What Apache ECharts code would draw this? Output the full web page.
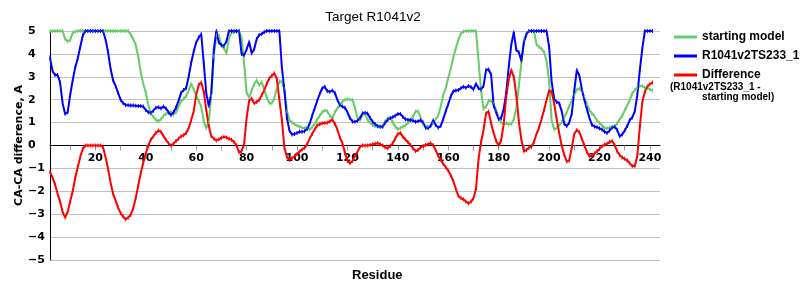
<!DOCTYPE html>
<html>
<head>
<meta charset="utf-8">
<script src="https://cdn.jsdelivr.net/npm/echarts@6/dist/echarts.min.js"></script>
<style>
html,body{margin:0;padding:0;background:#fff;}
#chart{width:800px;height:300px;}
</style>
</head>
<body>
<div id="chart"></div>
<script>
// Residue range on the category axis
const firstResidue = 2;
const lastResidue = 244;

// starting model, residues 2..241
const startingModel = [
  5,5,5,5,5,5,
  4.65,4.55,4.6,4.92,4.98,
  5,5,5,5,5,5,5,5,5,5,5,5,5,5,5,5,5,5,5,5,5,
  4.85,4.65,4.39,3.9,3.2,2.7,2.3,
  1.77,1.4,1.25,1.12,1.06,1.15,1.3,1.38,1.44,1.48,
  1.35,1.45,1.7,1.93,2.04,2.15,2.4,2.7,2.45,2.18,
  1.95,1.7,1.05,0.76,1.05,2.2,3.9,4.8,4.8,4.35,
  4.25,4.03,4.7,4.92,4.95,4.97,5,4.7,3.6,2.3,
  2.1,2.4,2.68,2.85,2.64,2.77,2.42,2.1,1.85,1.85,
  2.06,2.5,2.79,2.79,2.45,1.5,1.1,1.0,0.93,0.87,
  0.82,0.78,0.75,0.8,0.7,0.8,0.95,1.13,1.3,1.46,
  1.53,1.5,1.3,1.2,1.45,1.62,1.78,1.9,2.0,2.02,
  2.01,1.99,1.65,1.19,1.11,1.33,1.4,1.12,1.0,0.9,
  0.84,0.82,0.82,0.85,1.05,1.2,1.2,1.02,0.82,0.72,
  0.76,0.82,0.88,0.98,1.12,1.25,1.48,1.5,1.25,0.92,
  0.85,0.83,0.85,0.98,1.15,1.3,1.7,2.2,2.5,2.95,
  3.35,3.85,4.25,4.62,4.88,4.98,5,5,5,5,
  5,3.7,2.4,1.6,1.7,1.95,1.95,1.8,1.55,1.2,
  1.0,0.94,0.97,0.92,0.95,1.15,1.6,2.6,3.6,4.6,
  4.9,5,5,5,4.42,4.3,4.22,4.08,3.7,2.79,
  1.11,0.7,0.76,0.87,1.02,1.22,1.45,1.73,1.95,2.2,
  2.44,2.48,2.38,2.1,1.8,1.55,1.4,1.28,1.1,0.98,
  0.88,0.76,0.75,0.78,0.82,0.82,0.97,1.14,1.3,1.53,
  1.75,1.98,2.28,2.42,2.54,2.6,2.6,2.52,2.52,2.45,2.4
];

// R1041v2TS233_1, residues 2..241
const modelTS233 = [
  3.85,3.25,3.08,3.08,2.75,1.85,1.38,1.45,2.2,
  2.85,3.4,3.8,4.3,4.8,5,5,5,5,5,
  5,5,5,4.65,4.1,3.37,2.86,2.6,2.3,2.0,
  1.85,1.77,1.76,1.75,1.75,1.74,1.72,1.72,1.7,1.55,
  1.45,1.43,1.52,1.65,1.67,1.62,1.7,1.62,1.45,1.33,
  1.45,1.65,1.95,2.3,2.42,2.5,3.0,3.6,4.1,4.5,
  4.72,4.87,3.6,2.28,1.72,2.3,4.2,5,4.5,4.39,
  4.35,4.55,5,5,5,5,5,4.0,3.95,4.2,
  4.53,4.03,4.2,4.65,4.83,4.87,4.95,5,5,5,
  5,5,5,3.4,2.4,1.2,0.65,0.48,0.5,0.55,
  0.6,0.6,0.62,0.72,0.95,1.3,1.62,1.95,2.25,2.5,
  2.57,2.38,2.35,2.4,2.3,2.0,1.76,1.7,1.65,1.45,
  1.2,1.05,1.04,1.08,1.2,1.41,1.43,1.4,1.2,1.04,
  0.93,0.85,0.82,0.82,1.0,1.12,1.2,1.24,1.3,1.38,
  1.38,1.25,1.15,1.12,1.11,1.08,1.04,1.06,1.1,1.0,
  0.78,0.75,0.85,1.1,0.9,0.78,0.85,1.15,1.5,1.8,
  2.15,2.37,2.4,2.42,2.5,2.57,2.52,2.6,2.55,2.45,
  2.7,2.5,2.45,2.6,3.3,3.32,3.1,1.75,1.45,1.15,
  1.2,1.6,2.3,3.45,4.4,4.95,4.17,4.07,3.7,4.5,
  4.85,5,5,5,5,5,5,5,5,4.32,
  2.79,2.05,1.9,1.85,1.5,0.95,0.85,1.0,1.4,2.4,
  3.3,3.05,2.45,2.0,1.6,1.2,0.9,0.83,0.8,0.75,
  0.7,0.6,0.55,0.65,0.78,0.82,0.68,0.4,0.48,0.65,
  0.85,1.11,1.22,1.5,2.2,3.3,4.25,5,5,5,5
];

// Difference (R1041v2TS233_1 - starting model), residues 2..241
const difference = [
  -1.15,-1.4,-1.7,-2.1,-2.45,-2.9,-3.15,-2.9,-2.45,
  -2.0,-1.42,-0.95,-0.5,-0.15,0,0,0,0,0,
  0,0,-0.05,-0.49,-1.0,-1.6,-2.1,-2.4,-2.7,-2.95,
  -3.1,-3.22,-3.15,-3.03,-2.75,-2.3,-1.75,-1.2,-0.75,-0.35,
  -0.02,0.26,0.4,0.55,0.65,0.6,0.42,0.25,0.1,0.0,
  0.08,0.2,0.3,0.4,0.45,0.55,0.75,1.1,1.5,2.2,
  2.65,2.75,2.35,1.55,0.85,0.4,0.3,0.22,0.27,0.33,
  0.38,0.35,0.3,0.25,0.15,0.0,-0.3,-0.25,0.05,1.2,
  1.95,2.05,1.84,1.9,1.99,2.2,2.42,2.7,2.93,3.05,
  3.15,2.9,2.0,1.11,-0.1,-0.5,-0.63,-0.55,-0.48,-0.37,
  -0.26,-0.18,-0.1,0.05,0.3,0.5,0.7,0.88,0.93,0.97,
  0.98,0.99,1.05,1.14,0.95,0.7,0.35,0.1,-0.3,-0.68,
  -0.78,-0.68,-0.45,-0.28,-0.05,0,0,0,0.02,0.05,
  0.08,0.1,0.05,0,-0.08,-0.12,-0.02,0.1,0.32,0.5,
  0.55,0.38,0.26,0.15,0.02,-0.12,-0.25,-0.2,-0.08,-0.02,
  0.02,0.06,0.1,0.02,-0.2,-0.45,-0.62,-0.8,-0.95,-1.1,
  -1.3,-1.55,-1.9,-2.2,-2.3,-2.35,-2.45,-2.52,-2.46,-2.3,
  -1.9,-0.6,0.15,0.68,1.41,1.48,0.97,0.55,0.2,0.0,
  0.24,0.95,2.13,2.9,3.3,3.0,2.2,1.05,0.25,-0.25,
  -0.2,-0.1,-0.05,0.15,0.5,0.78,1.15,1.55,1.99,2.38,
  2.35,1.85,1.15,0.55,0.0,-0.4,-0.7,-0.65,-0.1,0.5,
  0.68,0.58,0.3,0.0,-0.28,-0.47,-0.45,-0.35,-0.25,-0.15,
  -0.03,0.03,0.08,0.15,0.2,0.02,-0.25,-0.42,-0.52,-0.58,
  -0.65,-0.78,-0.9,-0.9,-0.45,0.82,1.9,2.35,2.58,2.68,2.75
];

const seriesNames = ['starting model', 'R1041v2TS233_1', 'Difference'];
const seriesColors = ['#66CC66', '#0000FF', '#FF0000'];

const residues = [];
for (let r = firstResidue; r <= lastResidue; r++) residues.push(String(r));

const chart = echarts.init(document.getElementById('chart'), null, {renderer: 'canvas'});

function lineSeries(name, data, color) {
  return {
    name: name,
    type: 'line',
    data: data,
    symbol: 'rect',
    symbolSize: [1, 4],
    showSymbol: true,
    showAllSymbol: true,
    animation: false,
    lineStyle: {color: color, width: 2},
    itemStyle: {color: color},
    emphasis: {disabled: true}
  };
}

chart.setOption({
  animation: false,
  backgroundColor: '#ffffff',
  title: {
    text: 'Target R1041v2',
    left: 368,
    textAlign: 'center',
    top: 5,
    textStyle: {fontFamily: 'Liberation Sans', fontSize: 13.5, fontWeight: 'normal', color: '#000'}
  },
  grid: {left: 50, right: 140, top: 31, bottom: 40, containLabel: false},
  legend: {
    orient: 'vertical',
    left: 669,
    top: 26,
    itemWidth: 23,
    itemHeight: 3,
    itemGap: 7,
    icon: 'rect',
    data: seriesNames,
    textStyle: {fontFamily: 'Liberation Sans', fontSize: 12, fontWeight: 'bold', color: '#000'}
  },
  xAxis: {
    type: 'category',
    data: residues,
    boundaryGap: false,
    position: 'bottom',
    offset: -114.5,
    axisLine: {onZero: false, lineStyle: {color: '#000', width: 1}},
    axisTick: {
      show: true, length: 5, inside: false,
      interval: function (i, v) { return Number(v) % 10 === 0; },
      lineStyle: {color: '#999'}
    },
    axisLabel: {
      interval: function (i, v) { return Number(v) % 20 === 0; },
      margin: 7,
      fontFamily: 'DejaVu Sans', fontSize: 11, fontWeight: 'bold', color: '#000'
    },
    splitLine: {show: false}
  },
  yAxis: {
    type: 'value',
    min: -5, max: 5, interval: 1,
    name: 'CA-CA difference, A',
    nameLocation: 'middle',
    nameGap: 25,
    nameRotate: 90,
    nameMoveOverlap: false,
    nameTextStyle: {fontFamily: 'DejaVu Sans', fontSize: 11, fontWeight: 'bold', color: '#000'},
    axisLine: {show: true, lineStyle: {color: '#000', width: 1}},
    axisTick: {show: false},
    axisLabel: {
      align: 'left',
      margin: 22,
      fontFamily: 'DejaVu Sans', fontSize: 11, fontWeight: 'bold', color: '#000',
      formatter: function (v) { return String(v).replace('-', '\u2212'); }
    },
    splitLine: {show: true, lineStyle: {color: '#c0c0c0', width: 1}}
  },
  graphic: [
    {type: 'text', left: 352, top: 269,
     style: {text: 'Residue', fontFamily: 'Liberation Sans', fontSize: 13, fontWeight: 'bold', fill: '#000'}},
    {type: 'text', left: 670, top: 82,
     style: {text: '(R1041v2TS233_1 -', fontFamily: 'Liberation Sans', fontSize: 10, fontWeight: 'bold', fill: '#000'}},
    {type: 'text', left: 702, top: 92,
     style: {text: 'starting model)', fontFamily: 'Liberation Sans', fontSize: 10, fontWeight: 'bold', fill: '#000'}}
  ],
  series: [
    lineSeries(seriesNames[0], startingModel, seriesColors[0]),
    lineSeries(seriesNames[1], modelTS233, seriesColors[1]),
    lineSeries(seriesNames[2], difference, seriesColors[2])
  ]
});
</script>
</body>
</html>
